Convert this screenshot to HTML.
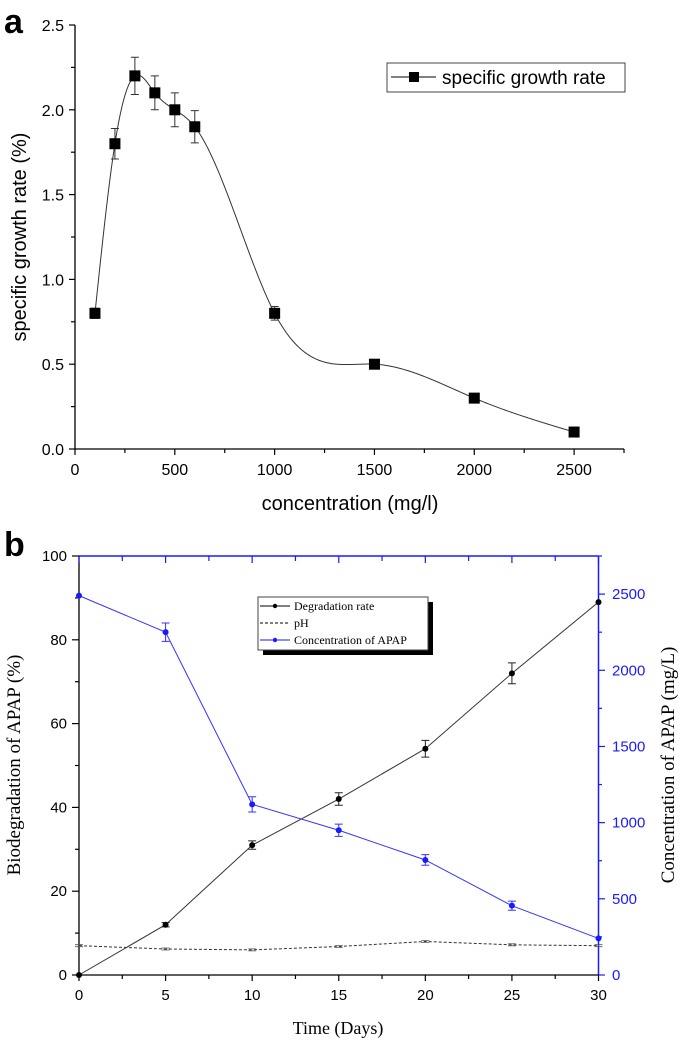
<!DOCTYPE html>
<html><head><meta charset="utf-8">
<style>
html,body{margin:0;padding:0;background:#fff;}
svg{display:block;}
</style></head>
<body>
<svg id="fig" width="685" height="1045" viewBox="0 0 685 1045" xmlns="http://www.w3.org/2000/svg">
<g id="pa"></g>
<g id="pb"></g>
</svg>
<script>
// Panel a data
const concA = [100,200,300,400,500,600,1000,1500,2000,2500];
const rateA = [0.8,1.8,2.2,2.1,2.0,1.9,0.8,0.5,0.3,0.1];
const errA = [0.03,0.09,0.11,0.1,0.1,0.095,0.04,0,0,0];
const xTicksA = [0,500,1000,1500,2000,2500];
const yTicksA = ["0.0","0.5","1.0","1.5","2.0","2.5"];
// Panel b data
const daysB = [0,5,10,15,20,25,30];
const degB = [0,12,31,42,54,72,89];
const degErrB = [0,0.5,1,1.5,2,2.5,0];
const phB = [7,6.2,6,6.8,8,7.2,7];
const concB = [2490,2250,1120,950,755,455,240];
const concErrB = [0,60,50,40,35,30,0];
const xTicksB = [0,5,10,15,20,25,30];
const yTicksB = [0,20,40,60,80,100];
const yRTicksB = [0,500,1000,1500,2000,2500];

const NS="http://www.w3.org/2000/svg";
function mk(parent,tag,attrs,text){const e=document.createElementNS(NS,tag);for(const k in attrs)e.setAttribute(k,attrs[k]);if(text!==undefined)e.textContent=text;parent.appendChild(e);return e;}

// natural cubic spline
function spline(xs,ys){const n=xs.length;const h=[],al=[0],l=[1],mu=[0],z=[0];
for(let i=0;i<n-1;i++)h[i]=xs[i+1]-xs[i];
for(let i=1;i<n-1;i++)al[i]=3/h[i]*(ys[i+1]-ys[i])-3/h[i-1]*(ys[i]-ys[i-1]);
for(let i=1;i<n-1;i++){l[i]=2*(xs[i+1]-xs[i-1])-h[i-1]*mu[i-1];mu[i]=h[i]/l[i];z[i]=(al[i]-h[i-1]*z[i-1])/l[i];}
const c=new Array(n).fill(0),b=[],d=[];
for(let j=n-2;j>=0;j--){c[j]=z[j]-mu[j]*c[j+1];b[j]=(ys[j+1]-ys[j])/h[j]-h[j]*(c[j+1]+2*c[j])/3;d[j]=(c[j+1]-c[j])/(3*h[j]);}
return x=>{let j=0;while(j<n-2&&x>xs[j+1])j++;const dx=x-xs[j];return ys[j]+b[j]*dx+c[j]*dx*dx+d[j]*dx*dx*dx;};}

// ---------- Panel A ----------
const pa=document.getElementById('pa');
const ax=v=>75+v*(624-75)/2750;
const ay=v=>449-v*(449-25)/2.5;
let t;
t=mk(pa,'text',{x:4,y:33,'font-family':'Liberation Sans, sans-serif','font-size':34,'font-weight':'bold'},'a');

let l=mk(pa,'line',{x1:75,y1:25,x2:75,y2:449,stroke:'#000','stroke-width':1.3});

l=mk(pa,'line',{x1:75,y1:449,x2:624,y2:449,stroke:'#000','stroke-width':1.3});

for(let v=0;v<=2750;v+=250){const X=ax(v);mk(pa,'line',{x1:X,y1:449,x2:X,y2:v%500==0?455:453,stroke:'#000','stroke-width':1.2});}
xTicksA.forEach(v=>{t=mk(pa,'text',{x:ax(v),y:475,'text-anchor':'middle','font-family':'Liberation Sans, sans-serif','font-size':16},String(v));});
for(let i=0;i<=10;i++){const v=i*0.25;const Y=ay(v);mk(pa,'line',{x1:75,y1:Y,x2:i%2==0?69:71,y2:Y,stroke:'#000','stroke-width':1.2});}
yTicksA.forEach(s=>{t=mk(pa,'text',{x:64,y:ay(+s)+6,'text-anchor':'end','font-family':'Liberation Sans, sans-serif','font-size':16},s);});
t=mk(pa,'text',{x:350,y:510,'text-anchor':'middle','font-family':'Liberation Sans, sans-serif','font-size':20},'concentration (mg/l)');

t=mk(pa,'text',{x:0,y:0,'text-anchor':'middle','font-family':'Liberation Sans, sans-serif','font-size':20,transform:'translate(26,237) rotate(-90)'},'specific growth rate (%)');

const sf=spline(concA,rateA);
let d='';
const x0=concA[0],x1=concA[concA.length-1];
for(let x=x0;x<=x1;x+=5){d+=(d?'L':'M')+ax(x).toFixed(2)+','+ay(sf(x)).toFixed(2);}
let pth=mk(pa,'path',{d:d,fill:'none',stroke:'#333','stroke-width':1});

concA.forEach((c,i)=>{const X=ax(c);if(errA[i]>0){const y1=ay(rateA[i]+errA[i]),y2=ay(rateA[i]-errA[i]);
const g=mk(pa,'path',{d:`M${X},${y1}V${y2}M${X-4},${y1}H${X+4}M${X-4},${y2}H${X+4}`,stroke:'#333','stroke-width':1,fill:'none'});
}
const r=mk(pa,'rect',{x:X-5.5,y:ay(rateA[i])-5.5,width:11,height:11,fill:'#000'});
});
// legend a
const lga=mk(pa,'g',{});
mk(lga,'rect',{x:387,y:63,width:238,height:29,fill:'#fff',stroke:'#444','stroke-width':1});
mk(lga,'line',{x1:391,y1:77,x2:436,y2:77,stroke:'#000','stroke-width':1});
mk(lga,'rect',{x:409,y:72,width:10,height:10,fill:'#000'});
mk(lga,'text',{x:442,y:84,'font-family':'Liberation Sans, sans-serif','font-size':19},'specific growth rate');

// ---------- Panel B ----------
const pb=document.getElementById('pb');
const bx=v=>79+v*(598.5-79)/30;
const by=v=>975-v*(975-556)/100;
const byR=v=>975-v*(975-556)/2750;
t=mk(pb,'text',{x:4,y:556,'font-family':'Liberation Sans, sans-serif','font-size':34,'font-weight':'bold'},'b');

l=mk(pb,'line',{x1:79,y1:556,x2:598.5,y2:556,stroke:'#1a1aff','stroke-width':1.5});

l=mk(pb,'line',{x1:598.5,y1:556,x2:598.5,y2:975,stroke:'#1a1aff','stroke-width':1.5});

l=mk(pb,'line',{x1:79,y1:556,x2:79,y2:975,stroke:'#000','stroke-width':1.3});

l=mk(pb,'line',{x1:79,y1:975,x2:598.5,y2:975,stroke:'#000','stroke-width':1.3});

for(let v=0;v<=30;v+=2.5){const X=bx(v);const maj=v%5==0;
mk(pb,'line',{x1:X,y1:975,x2:X,y2:maj?981:979,stroke:'#000','stroke-width':1.2});
mk(pb,'line',{x1:X,y1:556,x2:X,y2:maj?563:561,stroke:'#1a1aff','stroke-width':1.2});}
xTicksB.forEach(v=>{t=mk(pb,'text',{x:bx(v),y:1000,'text-anchor':'middle','font-family':'Liberation Sans, sans-serif','font-size':15},String(v));});
for(let v=0;v<=100;v+=10){const Y=by(v);mk(pb,'line',{x1:79,y1:Y,x2:v%20==0?72:75,y2:Y,stroke:'#000','stroke-width':1.2});}
yTicksB.forEach(v=>{t=mk(pb,'text',{x:67,y:by(v)+5,'text-anchor':'end','font-family':'Liberation Sans, sans-serif','font-size':15},String(v));});
for(let v=0;v<=2750;v+=250){const Y=byR(v);mk(pb,'line',{x1:598.5,y1:Y,x2:v%500==0?605:602,y2:Y,stroke:'#1a1aff','stroke-width':1.2});}
yRTicksB.forEach(v=>{t=mk(pb,'text',{x:612,y:byR(v)+5,'font-family':'Liberation Sans, sans-serif','font-size':15,fill:'#1a1aff'},String(v));});
t=mk(pb,'text',{x:338,y:1034,'text-anchor':'middle','font-family':'Liberation Serif, serif','font-size':18},'Time (Days)');

t=mk(pb,'text',{x:0,y:0,'text-anchor':'middle','font-family':'Liberation Serif, serif','font-size':19,transform:'translate(20,765) rotate(-90)'},'Biodegradation of APAP (%)');

t=mk(pb,'text',{x:0,y:0,'text-anchor':'middle','font-family':'Liberation Serif, serif','font-size':19,transform:'translate(674,765) rotate(-90)'},'Concentration of APAP (mg/L)');

function poly(xs,ys,fx,fy){return xs.map((x,i)=>fx(x)+','+fy(ys[i])).join(' ');}
let pl=mk(pb,'polyline',{points:poly(daysB,phB,bx,by),fill:'none',stroke:'#333','stroke-width':1,'stroke-dasharray':'3,2'});

daysB.forEach((v,i)=>{const X=bx(v),Y=by(phB[i]);const m=mk(pb,'path',{d:`M${X-4},${Y-1}H${X+4}M${X-4},${Y+1}H${X+4}`,stroke:'#555','stroke-width':0.8});});
pl=mk(pb,'polyline',{points:poly(daysB,degB,bx,by),fill:'none',stroke:'#333','stroke-width':1});

daysB.forEach((v,i)=>{const X=bx(v);if(degErrB[i]>0){const y1=by(degB[i]+degErrB[i]),y2=by(degB[i]-degErrB[i]);
const g=mk(pb,'path',{d:`M${X},${y1}V${y2}M${X-4},${y1}H${X+4}M${X-4},${y2}H${X+4}`,stroke:'#222','stroke-width':1,fill:'none'});}
const c=mk(pb,'circle',{cx:X,cy:by(degB[i]),r:3,fill:'#000'});});
pl=mk(pb,'polyline',{points:poly(daysB,concB,bx,byR),fill:'none',stroke:'#3333ff','stroke-width':1});

daysB.forEach((v,i)=>{const X=bx(v);if(concErrB[i]>0){const y1=byR(concB[i]+concErrB[i]),y2=byR(concB[i]-concErrB[i]);
const g=mk(pb,'path',{d:`M${X},${y1}V${y2}M${X-4},${y1}H${X+4}M${X-4},${y2}H${X+4}`,stroke:'#3333ff','stroke-width':1,fill:'none'});}
const c=mk(pb,'circle',{cx:X,cy:byR(concB[i]),r:3,fill:'#1a1aff'});});
// legend b
const lgb=mk(pb,'g',{});
mk(lgb,'rect',{x:263,y:602,width:170,height:53,fill:'#000'});
mk(lgb,'rect',{x:258,y:597,width:170,height:53,fill:'#fff',stroke:'#444','stroke-width':1});
mk(lgb,'line',{x1:260,y1:606,x2:290,y2:606,stroke:'#000','stroke-width':1});
mk(lgb,'circle',{cx:275,cy:606,r:2.2,fill:'#000'});
mk(lgb,'text',{x:294,y:610,'font-family':'Liberation Serif, serif','font-size':12},'Degradation rate');
mk(lgb,'line',{x1:260,y1:623,x2:290,y2:623,stroke:'#000','stroke-width':1,'stroke-dasharray':'3,2'});
mk(lgb,'text',{x:294,y:627,'font-family':'Liberation Serif, serif','font-size':12},'pH');
mk(lgb,'line',{x1:260,y1:640,x2:290,y2:640,stroke:'#1a1aff','stroke-width':1});
mk(lgb,'circle',{cx:275,cy:640,r:2.2,fill:'#1a1aff'});
mk(lgb,'text',{x:294,y:644,'font-family':'Liberation Serif, serif','font-size':12},'Concentration of APAP');
</script>
</body></html>
